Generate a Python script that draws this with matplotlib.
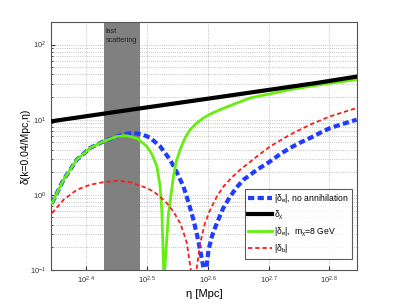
import matplotlib
matplotlib.use("Agg")
import matplotlib.pyplot as plt
from matplotlib.ticker import LogLocator, FixedLocator, NullFormatter
import numpy as np

# eta [Mpc] and amplitudes
eta_chi = [220, 300, 400, 500, 600, 700]
delta_chi = [9.5, 13.7, 19.1, 24.8, 30.7, 37.4]

eta_e_noann = [220.7, 230.5, 242.4, 255.0, 268.2, 282.1, 292.0, 300.5, 310.0, 320.1, 332.4,
               345.2, 354.0, 363.1, 370.0, 377.1, 382.0, 386.8, 392.3, 394.0, 395.8, 399.3,
               405.0, 412.1, 422.0, 433.4, 444.0, 455.8, 479.6, 504.2, 523.0, 543.8, 565.0,
               586.7, 610.0, 632.8, 665.0, 700]
delta_e_noann = [0.774, 1.585, 2.93, 4.20, 5.14, 5.98, 6.45, 6.65, 6.4, 5.75, 4.40,
                 2.93, 2.0, 1.29, 0.8, 0.464, 0.3, 0.185, 0.1, 0.001, 0.1, 0.185,
                 0.29, 0.42, 0.66, 0.95, 1.25, 1.585, 2.15, 2.78, 3.45, 4.20, 4.95,
                 5.70, 6.7, 7.74, 8.8, 10.0]

eta_e_ann = [220.7, 230.5, 242.4, 255.0, 268.2, 282.1, 293.1, 305.0, 316.1, 322.0, 328.3,
             332.4, 334.5, 336.9, 337.5, 338.2, 343.0, 349.6, 353.2, 358.5, 365.4, 372.4,
             381.0, 391.6, 403.3, 417.3, 441.6, 467.4, 550, 620, 700]
delta_e_ann = [0.774, 1.585, 2.93, 4.20, 5.14, 5.98, 6.12, 5.6, 4.40, 3.5, 2.4,
               1.29, 0.63, 0.1, 0.001, 0.1, 0.55, 1.75, 2.75, 3.98, 5.75, 7.36,
               8.85, 10.55, 12.0, 13.6, 16.3, 19.45, 25.5, 29.8, 34.1]

eta_b = [220.7, 230.5, 242.4, 255.0, 268.2, 282.1, 296.8, 316.1, 324.1, 332.0, 341.0,
         350.0, 358.5, 363.0, 367.8, 373.4, 377.4, 381.5, 386.8, 394.0, 401.8, 412.0,
         422.6, 436.0, 450.1, 479.6, 504.2, 543.8, 586.7, 632.8, 700]
delta_b = [0.570, 0.858, 1.166, 1.36, 1.476, 1.537, 1.476, 1.228, 1.107, 0.95, 0.774,
           0.59, 0.42, 0.32, 0.227, 0.1, 0.001, 0.1, 0.227, 0.42, 0.631, 0.95,
           1.29, 1.7, 2.15, 3.24, 4.40, 6.31, 8.58, 11.07, 14.3]

last_scattering = (269, 308)

plt.rcParams['font.family'] = ['Liberation Sans', 'DejaVu Sans']
plt.rcParams['mathtext.fontset'] = 'custom'
plt.rcParams['mathtext.rm'] = 'Liberation Sans'
plt.rcParams['mathtext.it'] = 'Liberation Sans'

fig = plt.figure(figsize=(3.95, 3.04), dpi=100)
ax = fig.add_axes([0.129, 0.112, 0.775, 0.816])

ax.set_xscale('log')
ax.set_yscale('log')

ax.axvspan(last_scattering[0], last_scattering[1], color='#808080', zorder=1, lw=0)
ax.text(last_scattering[0] + 1.5, 165, 'last\nscattering', fontsize=5.2, color='#222222',
        va='top', ha='left', linespacing=1.3, zorder=2)

ax.plot(eta_e_noann, delta_e_noann, color='#1f3dff', lw=3, ls=(0, (1.5, 0.8)),
        label=r'|$\delta_e$|, no annihilation', zorder=3)
ax.plot(eta_chi, delta_chi, color='black', lw=3, label=r'$\delta_\chi$', zorder=4)
ax.plot(eta_e_ann, delta_e_ann, color='#66ee11', lw=2, label=r'|$\delta_e$|,  m$_\chi$=8 GeV', zorder=3)
ax.plot(eta_b, delta_b, color='#ff1a1a', lw=1.3, ls=(0, (2.4, 1.6)), label=r'|$\delta_b$|', zorder=3)

ax.set_xlim(219.8, 701)
ax.set_ylim(0.1, 200)

xt = [10**2.4, 10**2.5, 10**2.6, 10**2.7, 10**2.8]
ax.xaxis.set_major_locator(FixedLocator(xt))
ax.set_xticklabels([r'10$^{2.4}$', r'10$^{2.5}$', r'10$^{2.6}$', r'10$^{2.7}$', r'10$^{2.8}$'])
ax.xaxis.set_minor_locator(FixedLocator([]))
ax.xaxis.set_minor_formatter(NullFormatter())
ax.yaxis.set_major_locator(LogLocator(base=10))
ax.yaxis.set_minor_locator(LogLocator(base=10, subs=np.arange(2, 10)))
ax.yaxis.set_minor_formatter(NullFormatter())

ax.grid(True, which='major', ls=':', color='#b0b0b0', lw=0.6, zorder=0)
ax.grid(True, which='minor', axis='y', ls=':', color='#b0b0b0', lw=0.6, zorder=0)
ax.set_axisbelow(True)

ax.tick_params(which='both', direction='in', labelsize=5.5, colors='#333333', length=3)
ax.tick_params(which='minor', length=1.5)
for sp in ax.spines.values():
    sp.set_color('#555555')
    sp.set_linewidth(0.8)

ax.set_xlabel('η [Mpc]', fontsize=8, labelpad=2)
ax.set_ylabel('δ(k=0.04/Mpc,η)', fontsize=7.5, labelpad=-1)

leg = ax.legend(loc='lower right', bbox_to_anchor=(0.985, 0.045), fontsize=6.2, frameon=True,
                fancybox=False, edgecolor='#333333', handlelength=2.8, handletextpad=0.25,
                labelspacing=0.42, borderpad=0.4, borderaxespad=0)
leg.get_frame().set_linewidth(0.8)

fig.savefig('out.png', dpi=100)
